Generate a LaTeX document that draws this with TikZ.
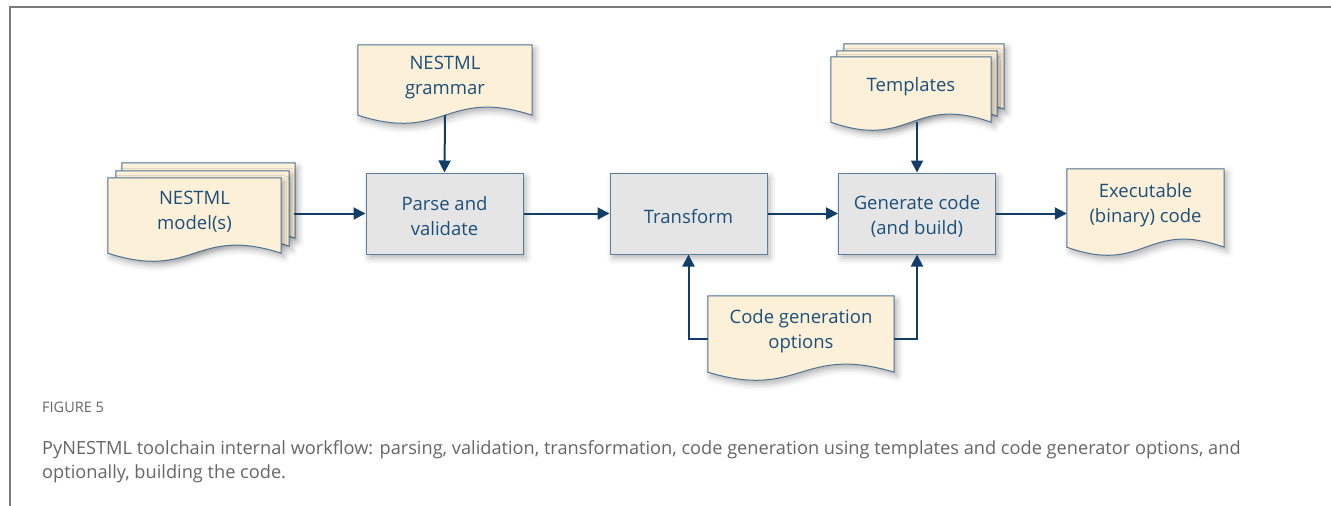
\documentclass[tikz,border=0pt]{standalone}
\usepackage{fontspec}
\setmainfont{Open Sans}
\usetikzlibrary{arrows.meta,calc,shadows.blur,backgrounds}
\definecolor{docfill}{HTML}{FDF0D9}
\definecolor{docline}{HTML}{4E7392}
\definecolor{boxfill}{HTML}{E5E5E5}
\definecolor{boxline}{HTML}{5D7E9A}
\definecolor{txt}{HTML}{1B4F7A}
\definecolor{arrowc}{HTML}{123D66}
\definecolor{framec}{HTML}{7A7A7A}
\definecolor{capc}{HTML}{666666}
\newcommand\tallstrut{\rule{0pt}{20pt}}
\tikzset{
  lbl/.style={text=txt, font=\fontsize{18.5}{25}\selectfont, align=center},
  softshadow/.style={blur shadow={shadow xshift=3pt, shadow yshift=-4pt, shadow blur radius=6pt, shadow opacity=30}},
  box/.style={lbl, draw=boxline, fill=boxfill, line width=1pt, minimum width=157pt, minimum height=81pt, inner sep=0pt, softshadow},
  docarea/.style={lbl, inner sep=0pt, execute at end node={\rule[-10pt]{0pt}{0pt}}},
  docshape/.style={fill=docfill, draw=docline, line width=1pt, softshadow},
  arr/.style={draw=arrowc, line width=2pt, -{Triangle[length=12pt,width=12pt]}},
  frameline/.style={draw=framec, line width=2pt},
}
\newcommand\docpath[3]{%
  \path[docshape] ($(#1.north west)+(#2,#3)$) -- ($(#1.north east)+(#2,#3)$) -- ($(#1.south east)+(#2,#3)$)
    .. controls ($(#1.south)+(#2,#3)+(0,-28)$) and ($(#1.south)+(#2,#3)+(0,28)$) .. ($(#1.south west)+(#2,#3)$) -- cycle;}
\begin{document}
\begin{tikzpicture}[x=1pt, y=-1pt]
\useasboundingbox (0,0) rectangle (1331,506);
% frame
\draw[frameline] (9,7) -- (1331,7);
\draw[frameline] (10,6) -- (10,506);
% process boxes
\node[box] (parse) at (444.5,213.5) {\tallstrut Parse and\\validate};
\node[box] (transform) at (688.5,213.5) {\tallstrut Transform};
\node[box] (gen) at (917,213.5) {\tallstrut Generate code\\(and build)};
% document nodes
\node[docarea, minimum width=173pt, minimum height=75pt] (models) at (194.5,215.5) {NESTML\\model(s)};
\node[docarea, minimum width=174pt, minimum height=70pt] (grammar) at (445,80) {NESTML\\grammar};
\node[docarea, minimum width=160pt, minimum height=65pt] (templates) at (911,89.5) {Templates};
\node[docarea, minimum width=186pt, minimum height=76pt] (opts) at (801,334) {Code generation\\options};
\node[docarea, minimum width=157pt, minimum height=78pt] (exe) at (1145.5,208) {Executable\\(binary) code};
\begin{scope}[on background layer]
  \docpath{models}{14}{-15}
  \docpath{models}{8}{-7}
  \docpath{models}{0}{0}
  \docpath{grammar}{0}{0}
  \docpath{templates}{13}{-13}
  \docpath{templates}{6}{-6}
  \docpath{templates}{0}{0}
  \docpath{opts}{0}{0}
  \docpath{exe}{0}{0}
\end{scope}
% connectors
\draw[arr] (grammar.south) -- (parse.north);
\draw[arr] ($(parse.west -| models.east)+(13,0)$) -- (parse.west);
\draw[arr] (parse.east) -- (transform.west);
\draw[arr] (transform.east) -- (gen.west);
\draw[arr] (gen.east) -- (gen.east -| exe.west);
\draw[arr] (templates.south -| gen.north) -- (gen.north);
\draw[arr] ($(opts.west)+(0,5)$) -| (transform.south);
\draw[arr] ($(opts.east)+(0,5)$) -| (gen.south);
% caption
\node[anchor=west, text=capc, font=\fontsize{14.5}{16}\selectfont, inner sep=0pt] (fig) at (42,407) {FIGURE 5};
\node[anchor=north west, text=capc, font=\fontsize{18.2}{24}\selectfont, align=left, inner sep=0pt] (cap) at (42,440)
  {PyNESTML toolchain internal workflow: parsing, validation, transformation, code generation using templates and code generator options, and\\optionally, building the code.};
\end{tikzpicture}
\end{document}
